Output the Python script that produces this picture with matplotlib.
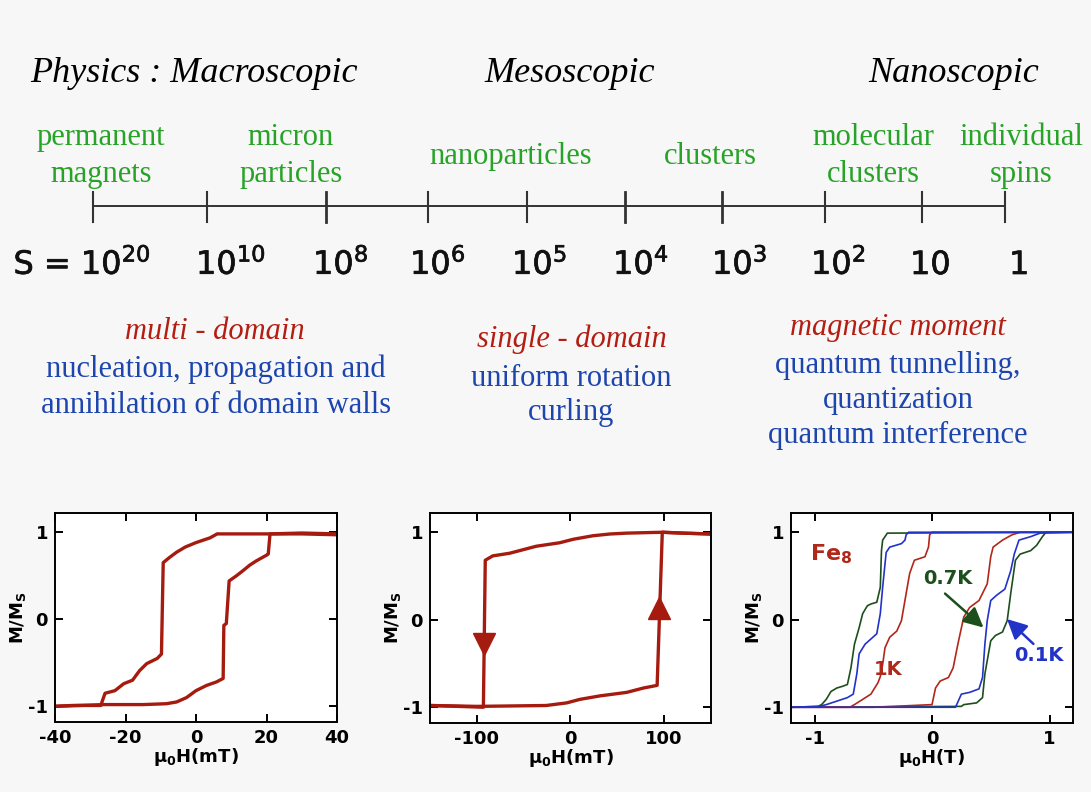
import matplotlib
matplotlib.use("Agg")
import matplotlib.pyplot as plt
import matplotlib.patheffects as pe

plt.rcParams['axes.unicode_minus'] = False
plt.rcParams['mathtext.fontset'] = 'dejavusans'

W, H = 1091, 792
BG = '#f7f7f7'
RED_TXT = '#b31d12'
BLUE_TXT = '#1d45ae'
GREEN_TXT = '#27a327'
LOOP_RED = '#a61b0f'
SERIF = 'Liberation Serif'

# ---- text content ----
regimes = ['Physics : Macroscopic', 'Mesoscopic', 'Nanoscopic']
objects = [['permanent', 'magnets'], ['micron', 'particles'], ['nanoparticles'],
           ['clusters'], ['molecular', 'clusters'], ['individual', 'spins']]
spin_labels = [r'S = 10$^{20}$', r'10$^{10}$', r'10$^{8}$', r'10$^{6}$', r'10$^{5}$',
               r'10$^{4}$', r'10$^{3}$', r'10$^{2}$', '10', '1']
headings = ['multi - domain', 'single - domain', 'magnetic moment']
mechanisms = [['nucleation, propagation and', 'annihilation of domain walls'],
              ['uniform rotation', 'curling'],
              ['quantum tunnelling,', 'quantization', 'quantum interference']]

# ---- multi-domain loop (mT) ----
md_down_h = [40, 30, 20, 6, 4, 0, -3, -5.5, -7.5, -9.3, -9.8, -11, -14, -16, -18,
             -20.5, -23, -25.8, -26.5, -27, -35, -40]
md_down_m = [0.97, 0.98, 0.98, 0.98, 0.935, 0.88, 0.83, 0.77, 0.71, 0.65, -0.4, -0.45,
             -0.51, -0.59, -0.7, -0.74, -0.82, -0.85, -0.93, -0.99, -0.99, -1.0]
md_up_h = [-40, -26, -15, -8.4, -5.5, -2.7, 0, 3, 5.8, 7.7, 7.9, 8.6, 9.4, 11.5, 13.4,
           15.2, 17.1, 20.2, 20.5, 21, 30, 40]
md_up_m = [-1.0, -0.98, -0.98, -0.97, -0.95, -0.9, -0.82, -0.76, -0.72, -0.68, -0.07,
           -0.05, 0.44, 0.5, 0.56, 0.62, 0.67, 0.74, 0.75, 0.98, 0.99, 0.98]

# ---- single-domain loop (mT) ----
sd_down_h = [150, 120, 98, 60, 42, 24, 3, -11.5, -36.6, -65, -83, -91, -93, -120, -150]
sd_down_m = [0.98, 0.99, 1.0, 0.99, 0.98, 0.96, 0.92, 0.88, 0.84, 0.76, 0.73, 0.68,
             -1.0, -0.99, -0.98]
sd_up_h = [-150, -100, -26, -4, 10, 31.5, 60, 78, 92.5, 98, 120, 150]
sd_up_m = [-0.98, -0.99, -0.98, -0.95, -0.91, -0.87, -0.83, -0.78, -0.75, 1.0, 0.99, 0.98]
sd_arrow_h = [-92, 95]
sd_arrow_m = [-0.28, 0.14]

# ---- Fe8 loops (T) ----
k1_down_h = [1.2, 0.5, 0.0, -0.02, -0.03, -0.06, -0.15, -0.19, -0.22, -0.26, -0.30,
             -0.36, -0.40, -0.42, -0.44, -0.46, -0.52, -0.59, -0.66, -0.70, -1.2]
k1_down_m = [1.0, 1.0, 1.0, 0.97, 0.83, 0.72, 0.68, 0.53, 0.30, -0.01, -0.13, -0.20,
             -0.32, -0.51, -0.65, -0.72, -0.85, -0.91, -0.97, -1.0, -1.0]
k1_up_h = [-1.2, -0.5, 0.0, 0.03, 0.07, 0.14, 0.18, 0.22, 0.27, 0.32, 0.40, 0.47, 0.50,
           0.52, 0.60, 0.68, 0.75, 1.2]
k1_up_m = [-1.0, -1.0, -0.97, -0.78, -0.70, -0.66, -0.55, -0.28, 0.03, 0.14, 0.22, 0.41,
           0.72, 0.83, 0.91, 0.97, 1.0, 1.0]

k07_down_h = [1.2, -0.38, -0.42, -0.43, -0.44, -0.47, -0.52, -0.55, -0.59, -0.62, -0.66,
              -0.69, -0.72, -0.76, -0.81, -0.86, -0.90, -0.94, -0.97, -1.2]
k07_down_m = [1.0, 0.99, 0.91, 0.79, 0.37, 0.20, 0.18, 0.16, 0.07, -0.09, -0.28, -0.55,
              -0.74, -0.76, -0.78, -0.82, -0.91, -0.97, -0.99, -1.0]
k07_up_h = [-1.2, 0.25, 0.27, 0.38, 0.43, 0.45, 0.50, 0.54, 0.60, 0.64, 0.67, 0.71, 0.75,
            0.84, 0.89, 0.94, 0.97, 1.2]
k07_up_m = [-1.0, -0.99, -0.97, -0.95, -0.89, -0.62, -0.24, -0.18, -0.14, -0.01, 0.30,
            0.68, 0.75, 0.79, 0.85, 0.95, 1.0, 1.0]

k01_down_h = [1.2, -0.2, -0.22, -0.23, -0.26, -0.36, -0.39, -0.42, -0.44, -0.47, -0.52,
              -0.57, -0.62, -0.64, -0.67, -0.72, -0.81, -0.90, -0.96, -1.2]
k01_down_m = [1.0, 1.0, 0.97, 0.91, 0.87, 0.83, 0.77, 0.37, 0.07, -0.16, -0.22, -0.28,
              -0.39, -0.62, -0.85, -0.89, -0.93, -0.97, -0.99, -1.0]
k01_up_h = [-1.2, 0.2, 0.21, 0.25, 0.32, 0.40, 0.43, 0.45, 0.47, 0.50, 0.55, 0.62, 0.67,
            0.70, 0.74, 0.84, 0.92, 1.2]
k01_up_m = [-1.0, -1.0, -0.97, -0.85, -0.83, -0.79, -0.66, -0.28, -0.01, 0.22, 0.28, 0.35,
            0.56, 0.75, 0.91, 0.95, 0.99, 1.0]

fig = plt.figure(figsize=(W / 100, H / 100), dpi=100, facecolor=BG)

# overlay in pixel coordinates for the diagram part
bg = fig.add_axes([0, 0, 1, 1])
bg.set_xlim(0, W)
bg.set_ylim(H, 0)
bg.axis('off')

for txt, x in zip(regimes, [194, 570, 954]):
    bg.text(x, 82, txt, ha='center', va='baseline', fontsize=26, style='italic',
            family=SERIF, color='black')

for lines, x in zip(objects, [101, 291, 511, 710, 873, 1021]):
    ys = [145, 182] if len(lines) == 2 else [164]
    for ln, y in zip(lines, ys):
        bg.text(x, y, ln, ha='center', va='baseline', fontsize=22, family=SERIF,
                color=GREEN_TXT)

ticks_x = [93, 207, 326, 428, 527, 625, 722, 825, 922, 1005]
tick_w = [1.5, 1.5, 2.0, 1.5, 1.5, 2.0, 2.0, 1.5, 1.5, 1.5]
bg.plot([ticks_x[0], ticks_x[-1]], [206, 206], color='#333333', lw=1.4)
for x, w in zip(ticks_x, tick_w):
    bg.plot([x, x], [192, 222], color='#333333', lw=w)
label_x = [151, 196, 313, 410, 512, 613, 712, 811, 910, 1009]
thick = [pe.withStroke(linewidth=0.5, foreground='#111111')]
for i, (txt, x) in enumerate(zip(spin_labels, label_x)):
    bg.text(x, 274, txt, ha='right' if i == 0 else 'left', va='baseline',
            fontsize=23, color='#111111', path_effects=thick)

for txt, x, y in zip(headings, [215, 572, 898], [339, 347, 335]):
    bg.text(x, y, txt, ha='center', va='baseline', fontsize=22, style='italic',
            family=SERIF, color=RED_TXT)
mech_x = [216, 571, 898]
mech_y = [[377, 413], [386, 420], [373, 408, 443]]
for lines, x, ys in zip(mechanisms, mech_x, mech_y):
    for ln, y in zip(lines, ys):
        bg.text(x, y, ln, ha='center', va='baseline', fontsize=22, family=SERIF,
                color=BLUE_TXT)


def px_axes(l, t, r, b):
    a = fig.add_axes([l / W, 1 - b / H, (r - l) / W, (b - t) / H])
    a.set_facecolor('white')
    return a


def style(ax, xlim, xticks, unit):
    ax.set_xlim(xlim)
    ax.set_ylim(-1.18, 1.22)
    ax.set_xticks(xticks)
    ax.set_yticks([-1, 0, 1])
    ax.tick_params(direction='in', top=True, right=True, length=6, width=1.4,
                   labelsize=13, pad=5)
    for lbl in ax.get_xticklabels() + ax.get_yticklabels():
        lbl.set_fontweight('bold')
    for s in ax.spines.values():
        s.set_linewidth(1.4)
    ax.set_xlabel(r'$\mathbf{\mu_0}$H(' + unit + ')', fontsize=13, fontweight='bold',
                  labelpad=-1)
    ax.set_ylabel(r'M/M$_\mathbf{S}$', fontsize=13, fontweight='bold', labelpad=0)


ax1 = px_axes(55, 513, 337, 722)
ax1.plot(md_down_h, md_down_m, color=LOOP_RED, lw=2.4)
ax1.plot(md_up_h, md_up_m, color=LOOP_RED, lw=2.4)
style(ax1, (-40, 40), [-40, -20, 0, 20, 40], 'mT')

ax2 = px_axes(430, 513, 711, 723)
ax2.plot(sd_down_h, sd_down_m, color=LOOP_RED, lw=2.4)
ax2.plot(sd_up_h, sd_up_m, color=LOOP_RED, lw=2.4)
ax2.plot(sd_arrow_h[:1], sd_arrow_m[:1], marker='v', ms=16, color=LOOP_RED, ls='none')
ax2.plot(sd_arrow_h[1:], sd_arrow_m[1:], marker='^', ms=16, color=LOOP_RED, ls='none')
style(ax2, (-150, 150), [-100, 0, 100], 'mT')

ax3 = px_axes(791, 513, 1073, 723)
C1, C07, C01 = '#b0281a', '#1d4f1d', '#2233c8'
ax3.plot(k07_down_h, k07_down_m, color=C07, lw=1.2)
ax3.plot(k07_up_h, k07_up_m, color=C07, lw=1.2)
ax3.plot(k1_down_h, k1_down_m, color=C1, lw=1.2)
ax3.plot(k1_up_h, k1_up_m, color=C1, lw=1.2)
ax3.plot(k01_down_h, k01_down_m, color=C01, lw=1.2)
ax3.plot(k01_up_h, k01_up_m, color=C01, lw=1.2)
ax3.text(-1.04, 0.75, r'Fe$_\mathbf{8}$', fontsize=16, fontweight='bold', color=C1,
         ha='left', va='center')
ax3.text(-0.37, -0.57, '1K', fontsize=14, fontweight='bold', color=C1,
         ha='center', va='center')
ax3.text(0.132, 0.477, '0.7K', fontsize=14, fontweight='bold', color=C07,
         ha='center', va='center')
ax3.annotate('', xy=(0.438, -0.089), xytext=(0.111, 0.299),
             arrowprops=dict(arrowstyle='-|>', color=C07, lw=1.8, mutation_scale=30,
                             shrinkA=0, shrinkB=0))
ax3.text(0.906, -0.408, '0.1K', fontsize=14, fontweight='bold', color=C01,
         ha='center', va='center')
ax3.annotate('', xy=(0.638, 0.008), xytext=(0.863, -0.276),
             arrowprops=dict(arrowstyle='-|>', color=C01, lw=1.8, mutation_scale=30,
                             shrinkA=0, shrinkB=0))
style(ax3, (-1.2, 1.2), [-1, 0, 1], 'T')

fig.savefig('out.png', dpi=100, facecolor=BG)
